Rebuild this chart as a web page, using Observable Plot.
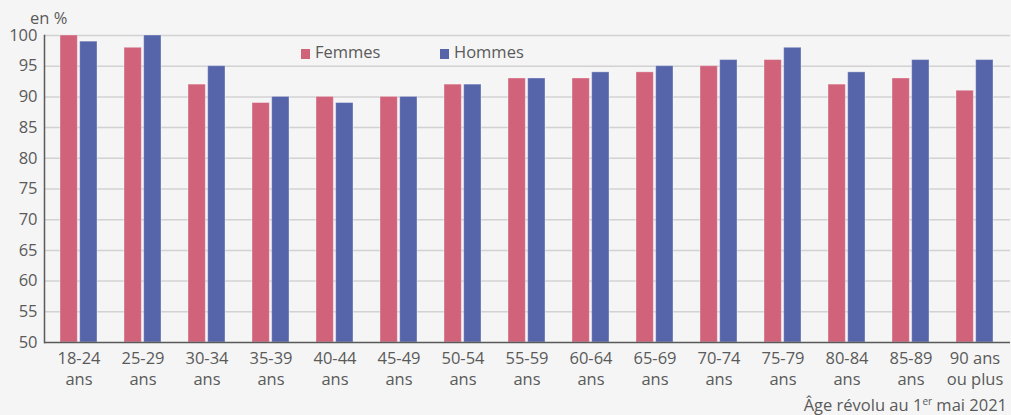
<!DOCTYPE html>
<html>
<head>
<meta charset="utf-8">
<script src="https://cdn.jsdelivr.net/npm/d3@7"></script>
<script src="https://cdn.jsdelivr.net/npm/@observablehq/plot@0.6"></script>
<style>
  html, body { margin: 0; padding: 0; background: #f5f5f5; }
  #wrap { position: relative; width: 1011px; height: 415px; font-family: "Open Sans", sans-serif; color: #5a5a5a; }
  .lbl { position: absolute; font-size: 16.5px; line-height: 1; white-space: nowrap; }
  .sw { display: inline-block; width: 9px; height: 10px; margin-right: 5px; vertical-align: -1px; }
</style>
</head>
<body>
<div id="wrap"></div>
<script>
const groups = ["18-24","25-29","30-34","35-39","40-44","45-49","50-54","55-59","60-64","65-69","70-74","75-79","80-84","85-89","90+"];
const groupLabels = ["18-24\nans","25-29\nans","30-34\nans","35-39\nans","40-44\nans","45-49\nans","50-54\nans","55-59\nans","60-64\nans","65-69\nans","70-74\nans","75-79\nans","80-84\nans","85-89\nans","90 ans\nou plus"];
const series = ["Femmes","Hommes"];
const femmes = [100, 98, 92, 89, 90, 90, 92, 93, 93, 94, 95, 96, 92, 93, 91];
const hommes = [99, 100, 95, 90, 89, 90, 92, 93, 94, 95, 96, 98, 94, 96, 96];
const yTicks = [50, 55, 60, 65, 70, 75, 80, 85, 90, 95, 100];
const colors = ["#d0627a", "#5665aa"];

const W = 1011, mL = 44, mR = 1;
const pInner = 0.42, pOuter = 0.21;
const step = (W - mL - mR) / (groups.length - pInner + 2 * pOuter);
const band = step * (1 - pInner);
const half = band / 2 + 1;

const dataF = groups.map((g, i) => ({group: g, value: femmes[i]}));
const dataH = groups.map((g, i) => ({group: g, value: hommes[i]}));
const labelOf = new Map(groups.map((g, i) => [g, groupLabels[i]]));

const chart = Plot.plot({
  width: W,
  height: 415,
  marginTop: 35,
  marginBottom: 73,
  marginLeft: mL,
  marginRight: mR,
  style: {background: "transparent", fontFamily: "'Open Sans', sans-serif", fontSize: "16.5px", color: "#5a5a5a"},
  x: {domain: groups, paddingInner: pInner, paddingOuter: pOuter, label: null},
  y: {domain: [50, 100], label: null},
  marks: [
    Plot.ruleY(yTicks.slice(1), {stroke: "#d2d2d2", strokeWidth: 1.5}),
    Plot.barY(dataF, {x: "group", y1: 50, y2: "value", fill: colors[0], insetRight: half, stroke: "white", strokeOpacity: 0.35, strokeWidth: 1}),
    Plot.barY(dataH, {x: "group", y1: 50, y2: "value", fill: colors[1], insetLeft: half, stroke: "white", strokeOpacity: 0.35, strokeWidth: 1}),
    Plot.axisY({ticks: yTicks, tickSize: 0, tickPadding: 7, label: null, fontSize: 16.5, fill: "#5a5a5a"}),
    Plot.axisX({tickSize: 0, tickPadding: 7, label: null, tickFormat: d => labelOf.get(d), fontSize: 16.5, lineHeight: 1.27, fill: "#5a5a5a"}),
    Plot.ruleY([50], {stroke: "#5a5a5a", strokeWidth: 1.5}),
    Plot.frame({anchor: "left", stroke: "#5a5a5a", strokeWidth: 1.5})
  ]
});

const wrap = document.getElementById("wrap");
wrap.appendChild(chart);
chart.style.position = "absolute";
chart.style.left = "0";
chart.style.top = "0";

function addLabel(html, css) {
  const d = document.createElement("div");
  d.className = "lbl";
  d.innerHTML = html;
  Object.assign(d.style, css);
  wrap.appendChild(d);
}
addLabel("en %", {left: "30px", top: "10px"});
addLabel(`<span class="sw" style="background:${colors[0]}"></span>${series[0]}`, {left: "301px", top: "44px"});
addLabel(`<span class="sw" style="background:${colors[1]}"></span>${series[1]}`, {left: "440px", top: "44px"});
addLabel("Âge révolu au 1<sup style='font-size:10px;vertical-align:6px'>er</sup> mai 2021", {right: "4px", top: "396px"});
</script>
</body>
</html>
